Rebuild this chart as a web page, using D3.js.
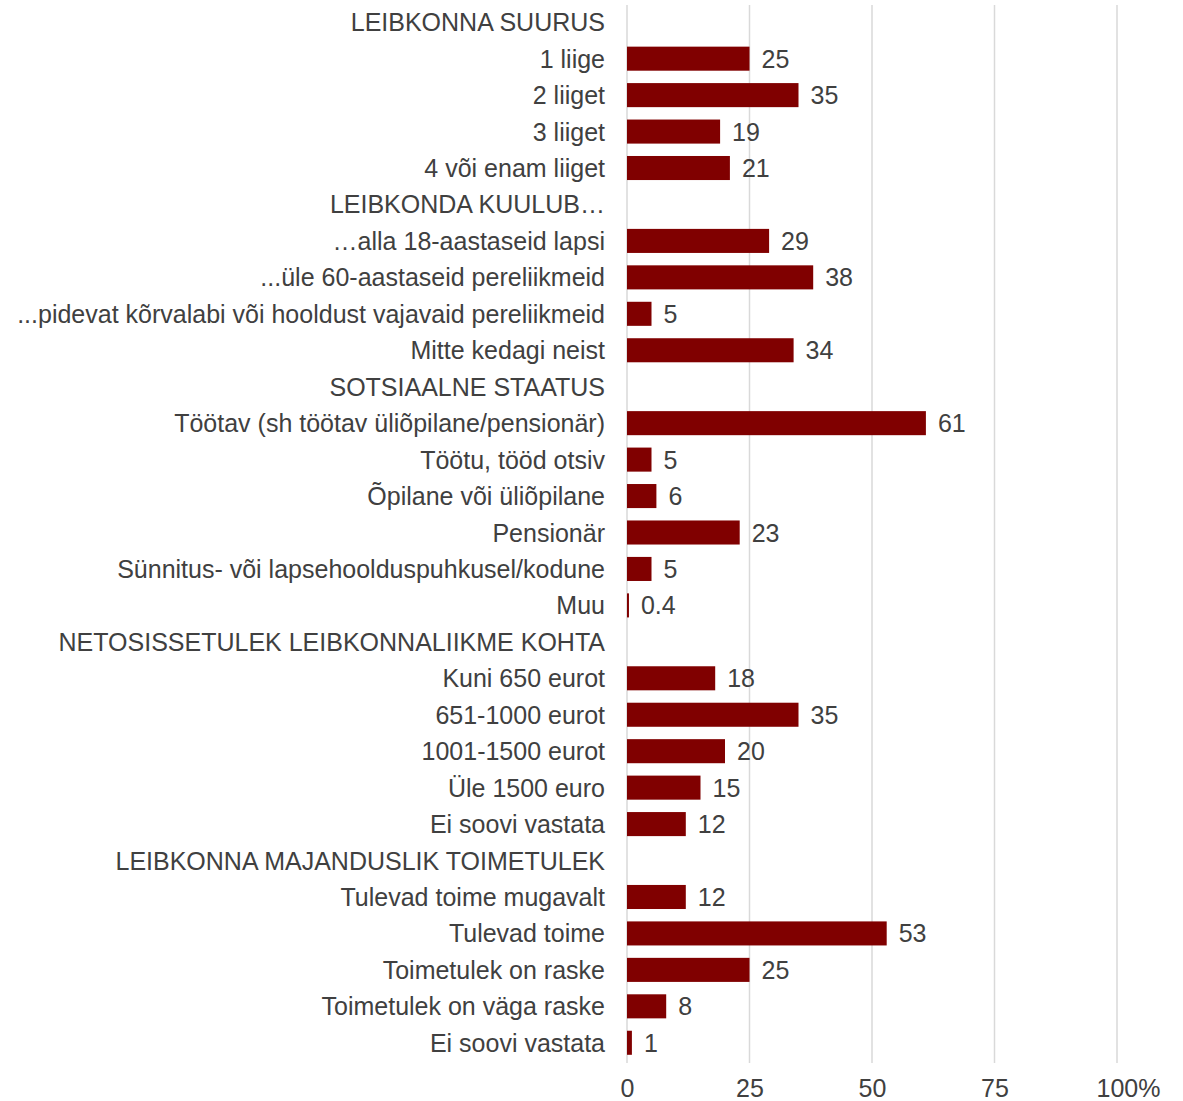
<!DOCTYPE html>
<html>
<head>
<meta charset="utf-8">
<script src="https://cdn.jsdelivr.net/npm/d3@7"></script>
<style>
  body { margin: 0; background: #fff; }
  text { font-family: "Liberation Sans", Arial, sans-serif; }
</style>
</head>
<body>
<div id="chart"></div>
<script>
// Rows top to bottom; headers have value null (no bar)
const labels = [
    'LEIBKONNA SUURUS', '1 liige', '2 liiget', '3 liiget', '4 või enam liiget',
    'LEIBKONDA KUULUB…', '…alla 18-aastaseid lapsi', '...üle 60-aastaseid pereliikmeid',
    '...pidevat kõrvalabi või hooldust vajavaid pereliikmeid', 'Mitte kedagi neist',
    'SOTSIAALNE STAATUS', 'Töötav (sh töötav üliõpilane/pensionär)', 'Töötu, tööd otsiv',
    'Õpilane või üliõpilane', 'Pensionär', 'Sünnitus- või lapsehoolduspuhkusel/kodune', 'Muu',
    'NETOSISSETULEK LEIBKONNALIIKME KOHTA', 'Kuni 650 eurot', '651-1000 eurot',
    '1001-1500 eurot', 'Üle 1500 euro', 'Ei soovi vastata',
    'LEIBKONNA MAJANDUSLIK TOIMETULEK', 'Tulevad toime mugavalt', 'Tulevad toime',
    'Toimetulek on raske', 'Toimetulek on väga raske', 'Ei soovi vastata'
];
const values = [
    null, 25, 35, 19, 21,
    null, 29, 38, 5, 34,
    null, 61, 5, 6, 23, 5, 0.4,
    null, 18, 35, 20, 15, 12,
    null, 12, 53, 25, 8, 1
];
const tickValues = [0, 25, 50, 75, 100];
const tickLabels = ['0', '25', '50', '75', '100%'];

const W = 1183, H = 1101;
const xLeft = 627, xRight = 1117;
const yTop = 4, yBottom = 1061;

const svg = d3.select('#chart').append('svg')
    .attr('width', W)
    .attr('height', H);

const x = d3.scaleLinear().domain([0, 100]).range([xLeft, xRight]);
const y = d3.scaleBand()
    .domain(d3.range(labels.length))
    .range([yTop, yBottom])
    .paddingInner(0.34)
    .paddingOuter(0.17);

const rows = labels.map((label, i) => ({ i, label, value: values[i] }));

// Gridlines
svg.append('g').selectAll('line')
    .data(tickValues)
    .join('line')
    .attr('x1', d => x(d))
    .attr('x2', d => x(d))
    .attr('y1', yTop + 1)
    .attr('y2', yBottom + 2)
    .attr('stroke', '#d9d9d9')
    .attr('stroke-width', 1.5);

// Bars
svg.append('g').selectAll('rect')
    .data(rows.filter(d => d.value != null))
    .join('rect')
    .attr('x', x(0))
    .attr('y', d => y(d.i))
    .attr('width', d => Math.max(1.5, x(d.value) - x(0)))
    .attr('height', y.bandwidth())
    .attr('fill', '#800000');

// Value labels
svg.append('g').selectAll('text')
    .data(rows.filter(d => d.value != null))
    .join('text')
    .attr('x', d => Math.max(x(d.value), x(0) + 1.5) + 12)
    .attr('y', d => y(d.i) + y.bandwidth() / 2)
    .attr('dy', '0.36em')
    .attr('font-size', 25)
    .attr('fill', '#404040')
    .text(d => d.value);

// Category labels
svg.append('g').selectAll('text')
    .data(rows)
    .join('text')
    .attr('x', x(0) - 22)
    .attr('y', d => y(d.i) + y.bandwidth() / 2)
    .attr('dy', '0.36em')
    .attr('text-anchor', 'end')
    .attr('font-size', 25)
    .attr('fill', '#404040')
    .text(d => d.label);

// X axis tick labels
const xAxis = d3.axisBottom(x)
    .tickValues(tickValues)
    .tickSize(0)
    .tickPadding(0)
    .tickFormat((d, i) => tickLabels[i]);

const axisG = svg.append('g')
    .attr('transform', `translate(0,${yBottom + 18})`)
    .call(xAxis);
axisG.select('.domain').remove();
axisG.selectAll('text')
    .attr('font-size', 25)
    .attr('font-family', '"Liberation Sans", Arial, sans-serif')
    .attr('fill', '#404040')
    .attr('dx', (d, i) => tickLabels[i].endsWith('%') ? 11 : 0);
</script>
</body>
</html>
